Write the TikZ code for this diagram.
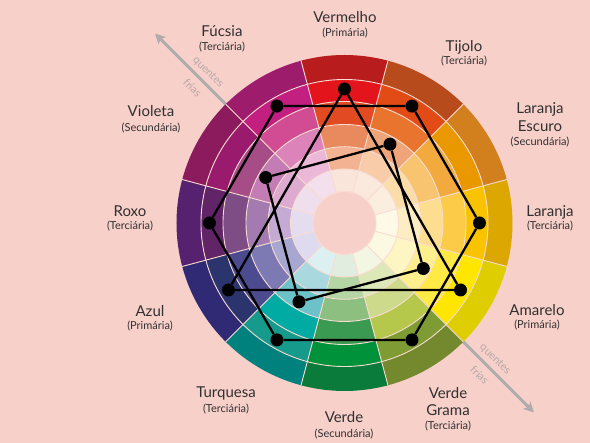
\documentclass[tikz,border=0pt]{standalone}
\usepackage{fontspec}
\setmainfont{Lato}
\usetikzlibrary{arrows.meta}
\definecolor{bg}{HTML}{F8D0CA}
\definecolor{sepc}{HTML}{F9DCD2}
\definecolor{txt}{HTML}{303030}
\definecolor{tmpc}{HTML}{B5A9A8}
\definecolor{arrc}{HTML}{B0ACAB}
\newcommand\wring[4]{%
  \definecolor{wcol}{HTML}{#4}%
  \fill[wcol] (#1-15:#2) arc[start angle=#1-15, end angle=#1+15, radius=#2]
    -- (#1+15:#3) arc[start angle=#1+15, end angle=#1-15, radius=#3] -- cycle;}
\newcommand\wsector[7]{%
  \wring{#1}{31.5pt}{54pt}{#2}%
  \wring{#1}{54pt}{76.3pt}{#3}%
  \wring{#1}{76.3pt}{98.5pt}{#4}%
  \wring{#1}{98.5pt}{121.5pt}{#5}%
  \wring{#1}{121.5pt}{143.5pt}{#6}%
  \wring{#1}{143.5pt}{168pt}{#7}}
\begin{document}
\begin{tikzpicture}[x=1pt,y=1pt,
  sepline/.style={draw=sepc, line width=0.9pt},
  dotn/.style={circle, fill=black, inner sep=0pt, minimum size=13pt},
  conn/.style={draw=black, line width=2.3pt},
  ttl/.style={anchor=base, text=txt, font=\fontsize{15}{18}\selectfont, inner sep=0pt},
  subl/.style={anchor=base, text=txt, font=\fontsize{11}{13}\selectfont, inner sep=0pt},
  templ/.style={text=tmpc, font=\fontsize{11}{13}\selectfont, rotate=-45, inner sep=0pt},
  warmline/.style={draw=arrc, line width=3pt}
]
\fill[bg] (-344.5,-220) rectangle (245.5,223);
\useasboundingbox (-344.5,-220) rectangle (245.5,223);

% warm / cold axis
\coordinate (aw) at (135:268pt);
\coordinate (ae) at (-45:268pt);
\draw[warmline, {Stealth[length=10pt,width=10pt,inset=2pt]}-{Stealth[length=10pt,width=10pt,inset=2pt]}] (aw) -- (ae);
\node[templ] (q1) at (-136.5,150.6) {quentes};
\node[templ] (f1) at (-152,135.1) {frias};
\node[templ] (q2) at (150.6,-136.5) {quentes};
\node[templ] (f2) at (135.1,-152) {frias};

% colour wheel
\wsector{90}{FAE5DA}{F3B291}{E9895E}{E24A22}{E3141C}{B81C1C}
\wsector{60}{FAE9DC}{F8CCA8}{EFA57A}{E8742D}{E24B16}{B84B1B}
\wsector{30}{FCEEDF}{FCDDAA}{F8C46F}{F2A93E}{EA9800}{D27F1D}
\wsector{0}{FFF9E8}{FEEDC2}{FDDD90}{FCCB48}{FAC300}{DCA700}
\wsector{-30}{FCF9E2}{FEF6C2}{FEEF8E}{FFE945}{FFE600}{DECD00}
\wsector{-60}{F3F6E3}{DDE8B8}{CDD98B}{B6C84C}{7E9C33}{74892D}
\wsector{-90}{E1EEDF}{B5D6A4}{8DBF80}{3A9A52}{00923B}{0B7B3B}
\wsector{-120}{DCF0F2}{A9D9DE}{6CC2C8}{00ABA4}{159A8B}{00817E}
\wsector{-150}{DEDBEE}{A8A7D2}{7D79B3}{4C4B8F}{2C346E}{2F2A73}
\wsector{180}{E4DDF0}{C5ABD4}{A37BB1}{7E4D85}{602467}{56226F}
\wsector{150}{EFDEEC}{DDABD0}{C47DB4}{A64C87}{9A1A6E}{8B1B5D}
\wsector{120}{F3E0EC}{EBB8D8}{DC84B9}{D24C93}{C21F80}{9D1C6C}
\fill[bg] (0,0) circle[radius=31.5pt];
\foreach \r in {31.5,54,76.3,98.5,121.5,143.5}
  \draw[sepline] (0,0) circle[radius=\r pt];
\foreach \a in {15,45,...,345}
  \draw[sepline] (\a:31.5pt) -- (\a:168pt);

% dots
\node[dotn] (tA) at (90:134pt) {};
\node[dotn] (tB) at (210:134pt) {};
\node[dotn] (tC) at (330:134pt) {};
\node[dotn] (h0) at (0:135pt) {};
\node[dotn] (h60) at (60:135pt) {};
\node[dotn] (h120) at (120:135pt) {};
\node[dotn] (h180) at (180:135pt) {};
\node[dotn] (h240) at (240:135pt) {};
\node[dotn] (h300) at (300:135pt) {};
\node[dotn] (q60) at (60:91pt) {};
\node[dotn] (q150) at (150:91pt) {};
\node[dotn] (q240) at (240:91pt) {};
\node[dotn] (q330) at (330:91pt) {};

% connectors
\draw[conn] (tA) -- (tB) -- (tC) -- (tA);
\draw[conn] (h0) -- (h60) -- (h120) -- (h180) -- (h240) -- (h300) -- (h0);
\draw[conn] (q60) -- (q150) -- (q240) -- (q330) -- (q60);

% labels
\node[ttl] (l1) at (0.5,200.5) {Vermelho};
\node[subl] (s1) at (0.5,186.5) {(Primária)};
\node[ttl] (l2) at (-122.5,186.5) {Fúcsia};
\node[subl] (s2) at (-122.5,172.5) {(Terciária)};
\node[ttl] (l3) at (119.5,171.5) {Tijolo};
\node[subl] (s3) at (119.5,158.5) {(Terciária)};
\node[ttl] (l4a) at (195.5,109.5) {Laranja};
\node[ttl] (l4b) at (195.5,91.5) {Escuro};
\node[subl] (s4) at (195.5,77.5) {(Secundária)};
\node[ttl] (l5) at (-193.5,106.5) {Violeta};
\node[subl] (s5) at (-193.5,91.5) {(Secundária)};
\node[ttl] (l6) at (-214.5,6.5) {Roxo};
\node[subl] (s6) at (-214.5,-6.5) {(Terciária)};
\node[ttl] (l7) at (205.5,6.5) {Laranja};
\node[subl] (s7) at (205.5,-6.5) {(Terciária)};
\node[ttl] (l8) at (-194.5,-93.5) {Azul};
\node[subl] (s8) at (-194.5,-106.5) {(Primária)};
\node[ttl] (l9) at (192.5,-92.5) {Amarelo};
\node[subl] (s9) at (192.5,-105.5) {(Primária)};
\node[ttl] (l10) at (-118.5,-174.5) {Turquesa};
\node[subl] (s10) at (-118.5,-189.5) {(Terciária)};
\node[ttl] (l11) at (-0.5,-199.5) {Verde};
\node[subl] (s11) at (-0.5,-214.5) {(Secundária)};
\node[ttl] (l12a) at (103.5,-175.5) {Verde};
\node[ttl] (l12b) at (103.5,-192.5) {Grama};
\node[subl] (s12) at (103.5,-206.5) {(Terciária)};
\end{tikzpicture}
\end{document}
